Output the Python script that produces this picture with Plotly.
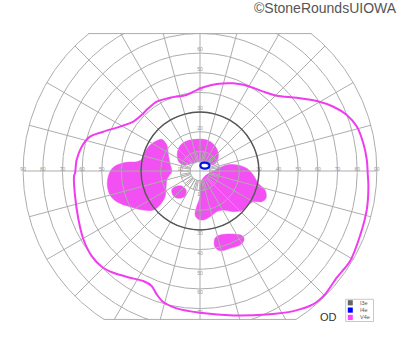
import numpy as np
import plotly.graph_objects as go

# ---------------- data (degrees of visual field, x = right, y = up) ----------------
v4e_x = [-63.6, -62.8, -60.2, -56.0, -49.2, -40.7, -33.9, -29.7, -26.3, -22.0, -15.3, -6.8,
         -1.7, 1.7, 8.5, 17.0, 25.4, 32.2, 39.0, 49.2, 59.4, 67.9, 74.7, 79.8, 83.1, 84.9,
         85.4, 85.7, 84.9, 81.4, 76.4, 69.6, 63.6, 57.7, 47.5, 33.9, 17.0, 0.0, -11.9, -18.7,
         -22.0, -24.6, -28.9, -35.6, -44.1, -50.0, -55.1, -59.4, -61.9, -63.6, -64.1, -63.6]
v4e_y = [-1.2, 5.6, 12.4, 17.5, 20.0, 22.6, 25.1, 28.5, 31.9, 35.3, 37.3, 38.7,
         41.2, 42.6, 44.3, 44.6, 42.9, 40.4, 38.3, 37.3, 35.6, 32.7, 28.5, 22.6, 14.1, 5.6,
         -2.0, -7.6, -19.5, -33.1, -45.8, -54.3, -62.8, -67.8, -71.3, -73.0, -73.5, -72.1, -69.9, -66.7,
         -62.8, -58.5, -56.0, -54.3, -51.8, -48.7, -43.3, -34.6, -24.4, -12.7, -2.5, -1.2]

blob_a_x = [-19.5, -16.9, -16.1, -15.3, -14.4, -16.1, -16.9, -17.3, -17.8, -20.4, -23.8, -28.9,
            -35.6, -42.4, -45.8, -47.2, -45.8, -43.3, -37.3, -32.2, -29.7, -28.0, -25.4, -22.0, -19.5]
blob_a_y = [16.1, 13.2, 8.1, 3.9, -0.4, -2.9, -4.6, -8.8, -13.1, -17.3, -19.9, -19.9,
            -18.2, -15.6, -12.2, -6.3, -0.4, 2.5, 4.4, 4.7, 6.0, 9.8, 13.2, 15.4, 16.1]

blob_b_x = [-11.6, -10.5, -7.6, -2.5, 3.4, 7.3, 9.3, 8.8, 6.8, 4.2, 0.0, -4.2, -8.5, -10.8, -11.6]
blob_b_y = [8.1, 12.4, 14.9, 16.1, 15.8, 13.2, 9.0, 5.2, 3.1, 3.4, 4.7, 3.9, 3.1, 4.7, 8.1]

blob_c_x = [2.5, 5.1, 9.3, 13.6, 18.7, 23.8, 27.1, 29.7, 33.1, 33.6, 31.4, 27.1, 24.6, 22.0,
            17.0, 11.9, 8.5, 5.1, 1.7, -0.9, -2.5, -1.7, 0.0, 0.0, 0.9, 2.5]
blob_c_y = [-2.5, -0.9, 1.4, 3.1, 3.1, 1.4, -2.0, -6.3, -9.7, -13.9, -15.6, -15.6, -17.3, -19.9,
            -20.7, -19.9, -20.7, -23.3, -24.9, -24.6, -22.4, -18.2, -13.1, -8.0, -4.6, -2.5]

blob_d_x = [-14.4, -12.7, -9.3, -7.1, -7.6, -10.2, -13.2, -14.4]
blob_d_y = [-9.7, -8.0, -7.6, -9.7, -12.7, -13.9, -13.1, -9.7]

blob_e_x = [7.6, 10.2, 17.0, 21.7, 22.4, 20.4, 15.3, 10.2, 7.6, 7.6]
blob_e_y = [-34.3, -32.6, -32.1, -33.1, -35.1, -37.7, -39.3, -40.6, -38.6, -34.3]

i4e_x = [0.2, 0.8, 2.5, 4.3, 4.8, 4.0, 2.2, 0.6, 0.2]
i4e_y = [3.0, 4.0, 4.3, 3.8, 2.6, 1.5, 1.2, 1.8, 3.0]

i3e_meridian = [0, 15, 30, 45, 60, 75, 90, 105, 120, 135, 150, 165,
                180, 195, 210, 225, 240, 255, 270, 285, 300, 315, 330, 345, 360]
i3e_ecc = [30, 30, 30, 30, 30, 30, 30, 30, 30, 30, 30, 30,
           30, 30, 30, 30, 30, 30, 30, 30, 30, 30, 30, 30, 30]

ring_ticks = [10, 20, 30, 40, 50, 60, 70, 80, 90]
legend_names = ["I3e", "I4e", "V4e"]
legend_colors = ["#666666", "#0000ff", "#ff44ff"]

# ---------------- style / geometry ----------------
K = 1.965            # px per degree
CX, CY = 200, 171    # centre in px
TOP_PX, BOT_PX = 33, 320
W, H = 400, 352
y_top = (CY - TOP_PX) / K
y_bot = -(BOT_PX - CY) / K
x_half = CX / K

GRID = "#adadad"
PINK_FILL = "rgb(242,80,242)"
PINK_LINE = "rgb(240,60,240)"

fig = go.Figure()

# scotoma fills (under grid)
for bx, by in [(blob_a_x, blob_a_y), (blob_b_x, blob_b_y), (blob_c_x, blob_c_y),
               (blob_d_x, blob_d_y), (blob_e_x, blob_e_y)]:
    fig.add_trace(go.Scatter(x=bx, y=by, mode="lines", fill="toself",
                             fillcolor=PINK_FILL, line=dict(color=PINK_FILL, width=0.5, shape="spline", smoothing=1.0),
                             hoverinfo="skip", showlegend=False))

# grid circles
gx, gy = [], []
th = np.linspace(0, 2 * np.pi, 721)
for r in [5] + ring_ticks:
    gx += list(r * np.cos(th)) + [None]
    gy += list(r * np.sin(th)) + [None]
# spokes every 15 deg
for a in range(0, 360, 15):
    if a % 90 == 0:
        continue
    t = np.deg2rad(a)
    gx += [5 * np.cos(t), 90 * np.cos(t), None]
    gy += [5 * np.sin(t), 90 * np.sin(t), None]
# inner dense spokes
for a in range(0, 360, 10):
    t = np.deg2rad(a)
    gx += [5 * np.cos(t), 10 * np.cos(t), None]
    gy += [5 * np.sin(t), 10 * np.sin(t), None]
# main axes
gx += [-90, 90, None, 0, 0, None]
gy += [0, 0, None, y_bot, y_top, None]
# top / bottom chords
for yy in [y_top - 0.3, y_bot + 0.3]:
    hx = np.sqrt(90 ** 2 - yy ** 2)
    gx += [-hx, hx, None]
    gy += [yy, yy, None]
fig.add_trace(go.Scatter(x=gx, y=gy, mode="lines", line=dict(color=GRID, width=1),
                         hoverinfo="skip", showlegend=False))

# tick labels
TICKFONT = dict(size=5, color="#999999", family="Liberation Sans, Arial")
lab_x, lab_y, lab_t = [], [], []
for r in ring_ticks:
    lab_x += [-r, r]
    lab_y += [0.8, 0.8]
    lab_t += [str(r), str(r)]
fig.add_trace(go.Scatter(x=lab_x, y=lab_y, mode="text", text=lab_t, textfont=TICKFONT,
                         textposition="middle center", hoverinfo="skip", showlegend=False))
top_r = [r for r in ring_ticks if r <= 70]
fig.add_trace(go.Scatter(x=[0] * len(top_r), y=[r + 0.3 for r in top_r], mode="text",
                         text=[str(r) for r in top_r], textfont=TICKFONT,
                         textposition="top center", hoverinfo="skip", showlegend=False))
fig.add_trace(go.Scatter(x=[0] * len(top_r), y=[-r - 0.8 for r in top_r], mode="text",
                         text=[str(r) for r in top_r], textfont=TICKFONT,
                         textposition="bottom center", hoverinfo="skip", showlegend=False))

# I3e isopter
tt = np.deg2rad(i3e_meridian)
fig.add_trace(go.Scatter(x=np.array(i3e_ecc) * np.cos(tt), y=np.array(i3e_ecc) * np.sin(tt),
                         mode="lines", line=dict(color="#555555", width=1.4, shape="spline"),
                         hoverinfo="skip", showlegend=False))
# I4e isopter
fig.add_trace(go.Scatter(x=i4e_x, y=i4e_y, mode="lines",
                         line=dict(color="#0010ee", width=2.2, shape="spline", smoothing=1.2),
                         hoverinfo="skip", showlegend=False))
# V4e isopter
fig.add_trace(go.Scatter(x=v4e_x, y=v4e_y, mode="lines",
                         line=dict(color=PINK_LINE, width=2, shape="spline", smoothing=0.8),
                         hoverinfo="skip", showlegend=False))


def pp(px, py):
    return px / W, (BOT_PX - py) / (BOT_PX - TOP_PX)


shapes = []
annotations = []
# legend box
x0, y0 = pp(345.7, 299.3)
x1, y1 = pp(373.5, 321.5)
shapes.append(dict(type="rect", xref="paper", yref="paper", x0=x0, y0=y1, x1=x1, y1=y0,
                   line=dict(color="#c8c8c8", width=1), fillcolor="white"))
for i, (nm, col) in enumerate(zip(legend_names, legend_colors)):
    cy = 302.8 + i * 7.3
    a0, b0 = pp(347.8, cy - 2.6)
    a1, b1 = pp(352.8, cy + 2.6)
    shapes.append(dict(type="rect", xref="paper", yref="paper", x0=a0, y0=b1, x1=a1, y1=b0,
                       line=dict(width=0), fillcolor=col))
    tx, ty = pp(357.5, cy)
    annotations.append(dict(x=tx, y=ty, xref="paper", yref="paper", text=nm, showarrow=False,
                            xanchor="left", yanchor="middle",
                            font=dict(size=5.5, color="#555555", family="Liberation Sans, Arial")))

ox, oy = pp(328.5, 317)
annotations.append(dict(x=ox, y=oy, xref="paper", yref="paper", text="OD", showarrow=False,
                        xanchor="center", yanchor="middle",
                        font=dict(size=11, color="#333333", family="Liberation Sans, Arial")))
cx_, cy_ = pp(399, 8.5)
annotations.append(dict(x=cx_, y=cy_, xref="paper", yref="paper", text="©StoneRoundsUIOWA",
                        showarrow=False, xanchor="right", yanchor="middle",
                        font=dict(size=14, color="#555555", family="Liberation Sans, Arial")))

fig.update_layout(
    width=W, height=H,
    margin=dict(l=0, r=0, t=TOP_PX, b=H - BOT_PX, pad=0),
    paper_bgcolor="white", plot_bgcolor="white",
    xaxis=dict(range=[-x_half, x_half], visible=False, showgrid=False, zeroline=False, fixedrange=True),
    yaxis=dict(range=[y_bot, y_top], visible=False, showgrid=False, zeroline=False, fixedrange=True),
    shapes=shapes, annotations=annotations, showlegend=False,
)

fig.write_html("out.html")
